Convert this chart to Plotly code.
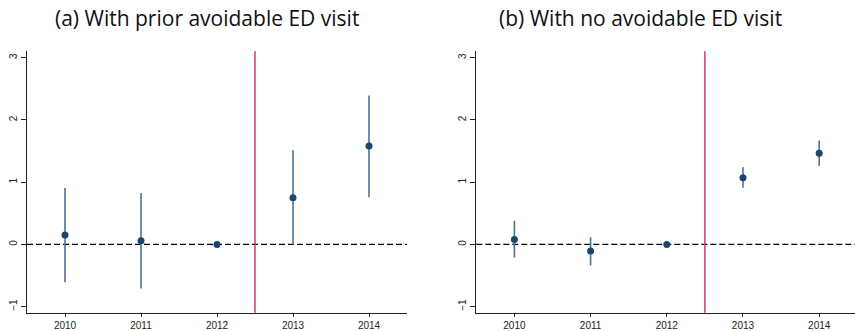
import plotly.graph_objects as go

# Event-study estimates by year (reference year 2012 normalised to zero)
years = [2010, 2011, 2012, 2013, 2014]

prior_est = [0.15, 0.06, 0.0, 0.75, 1.58]
prior_lo = [-0.61, -0.71, 0.0, 0.0, 0.755]
prior_hi = [0.905, 0.825, 0.0, 1.51, 2.39]

none_est = [0.08, -0.105, 0.0, 1.07, 1.465]
none_lo = [-0.21, -0.34, 0.0, 0.91, 1.26]
none_hi = [0.38, 0.115, 0.0, 1.24, 1.67]

y_ticks = [-1, 0, 1, 2, 3]
policy_break = 2012.5

titles = ["(a) With prior avoidable ED visit", "(b) With no avoidable ED visit"]

W, H = 855, 331
NAVY = "#1a476f"
CI_COLOR = "#4a7398"
RED = "#d43a64"

fig = go.Figure()


def px_x(v):
    return v / W


def px_y(v):
    return 1 - v / H


panels = [
    dict(est=prior_est, lo=prior_lo, hi=prior_hi, xa="x", ya="y",
         dom=[px_x(27), px_x(407)], xr=[2009.5, 2014.5]),
    dict(est=none_est, lo=none_lo, hi=none_hi, xa="x2", ya="y2",
         dom=[px_x(476.3), 1.0], xr=[2009.5, 2014.47]),
]

y_dom = [px_y(316.7), px_y(52)]

for i, p in enumerate(panels):
    up = [h - e for h, e in zip(p["hi"], p["est"])]
    dn = [e - l for e, l in zip(p["est"], p["lo"])]
    fig.add_trace(go.Scatter(
        x=years, y=p["est"], mode="markers", xaxis=p["xa"], yaxis=p["ya"],
        marker=dict(size=7, color=NAVY),
        error_y=dict(type="data", symmetric=False, array=up, arrayminus=dn,
                     width=0, thickness=1.6, color=CI_COLOR),
        showlegend=False, hoverinfo="x+y",
    ))
    suffix = "" if i == 0 else "2"
    # dashed zero reference line across the whole panel
    fig.add_shape(type="line", xref=f"x{suffix} domain", yref=f"y{suffix}",
                  x0=0, x1=1, y0=0, y1=0,
                  line=dict(color="black", width=1.2, dash="6px,3px"), layer="below")
    # policy break line
    fig.add_shape(type="line", xref=f"x{suffix}", yref=f"y{suffix} domain",
                  x0=policy_break, x1=policy_break, y0=0, y1=1,
                  line=dict(color=RED, width=1.5), layer="below")

    axis_common = dict(showgrid=False, zeroline=False, showline=True,
                       linecolor="#222", linewidth=1.2, ticks="outside",
                       tickcolor="#222", tickfont=dict(family="Liberation Sans, Arial",
                                                       size=10, color="#222"))
    xkey = "xaxis" if i == 0 else "xaxis2"
    ykey = "yaxis" if i == 0 else "yaxis2"
    fig.update_layout(**{
        xkey: dict(domain=p["dom"], range=p["xr"], anchor=p["ya"],
                   tickvals=years, ticklen=3, **axis_common),
        ykey: dict(domain=y_dom, range=[-1.1, 3.1], anchor=p["xa"],
                   tickvals=y_ticks, ticklen=5, tickangle=-90, **axis_common),
    })

title_x = [207, 640]
for t, cx in zip(titles, title_x):
    fig.add_annotation(text=t, xref="paper", yref="paper", x=px_x(cx), y=px_y(18),
                       xanchor="center", yanchor="middle", showarrow=False,
                       font=dict(family="Open Sans", size=21, color="#111"))

fig.update_layout(width=W, height=H, margin=dict(l=0, r=0, t=0, b=0),
                  plot_bgcolor="white", paper_bgcolor="white")

fig.write_html("out.html")
